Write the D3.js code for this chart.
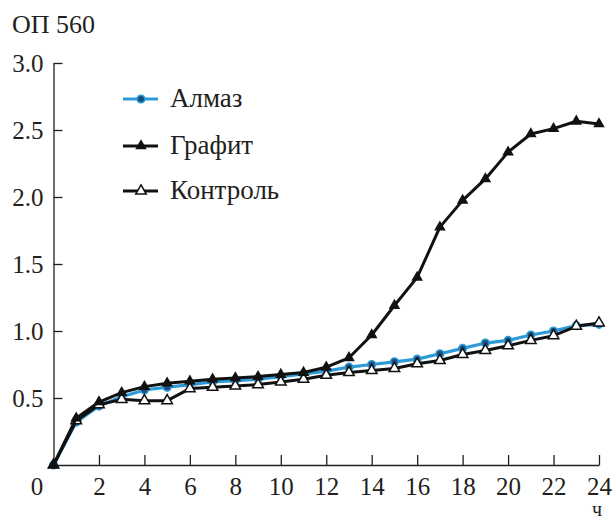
<!DOCTYPE html>
<html lang="ru">
<head>
<meta charset="utf-8" />
<title>ОП 560</title>
<script src="https://cdnjs.cloudflare.com/ajax/libs/d3/7.8.5/d3.min.js"></script>
<style>
  body { margin: 0; background: #fff; }
  svg, svg text { font-family: "Times New Roman", "Liberation Serif", Tinos, "DejaVu Serif", serif !important; }
</style>
</head>
<body>
<div id="chart"></div>
<script>
// hours
var hours = [0,1,2,3,4,5,6,7,8,9,10,11,12,13,14,15,16,17,18,19,20,21,22,23,24];
// optical density at 560 nm
var almaz    = [0,0.32,0.44,0.51,0.56,0.58,0.60,0.62,0.63,0.64,0.66,0.68,0.70,0.73,0.75,0.77,0.79,0.83,0.87,0.91,0.93,0.97,1.00,1.04,1.05];
var grafit   = [0,0.35,0.47,0.54,0.585,0.61,0.625,0.64,0.65,0.66,0.675,0.69,0.73,0.80,0.97,1.19,1.40,1.775,1.975,2.135,2.335,2.47,2.51,2.565,2.545];
var kontrol  = [0,0.33,0.45,0.49,0.48,0.48,0.57,0.58,0.59,0.60,0.62,0.64,0.67,0.69,0.705,0.72,0.755,0.78,0.825,0.855,0.89,0.93,0.965,1.035,1.06];
var seriesNames = ["Алмаз", "Графит", "Контроль"];
var xTicks = [2,4,6,8,10,12,14,16,18,20,22,24];
var yTicks = [0.5,1.0,1.5,2.0,2.5,3.0];

var W = 613, H = 523;
var txt = "#231f20";
var svg = d3.select("#chart").append("svg")
    .attr("width", W).attr("height", H);

var x = d3.scaleLinear().domain([0, 24]).range([53.5, 599]);
var y = d3.scaleLinear().domain([0, 3]).range([465, 63]);

// x axis, ticks pointing up
var gx = svg.append("g")
    .attr("transform", "translate(0," + y(0) + ")")
    .call(d3.axisBottom(x).tickValues(xTicks).tickSize(-10).tickSizeOuter(0).tickPadding(0));
gx.attr("font-family", null).attr("font-size", 25);
gx.select(".domain").attr("stroke", txt).attr("stroke-width", 1.3);
gx.selectAll(".tick line").attr("stroke", txt).attr("stroke-width", 1.3);
gx.selectAll(".tick text")
    .attr("y", 30).attr("dy", null).attr("fill", txt);

// y axis, ticks pointing right
var gy = svg.append("g")
    .attr("transform", "translate(" + x(0) + ",0)")
    .call(d3.axisLeft(y).tickValues(yTicks).tickSize(-9).tickSizeOuter(0)
        .tickFormat(d3.format(".1f")));
gy.attr("font-family", null).attr("font-size", 25);
gy.select(".domain").attr("stroke", txt).attr("stroke-width", 1.3);
gy.selectAll(".tick line").attr("stroke", txt).attr("stroke-width", 1.3);
gy.selectAll(".tick text")
    .attr("x", -10).attr("dy", "0.33em").attr("fill", txt);

// origin label and axis titles
svg.append("text").attr("x", 37).attr("y", 495).attr("text-anchor", "middle")
    .attr("font-size", 25).attr("fill", txt).text("0");
svg.append("text").attr("x", 12).attr("y", 33)
    .attr("font-size", 26).attr("fill", txt).text("ОП 560");
svg.append("text").attr("x", 597).attr("y", 516).attr("text-anchor", "middle")
    .attr("font-size", 20).attr("fill", txt).text("ч");

var line = d3.line()
    .x(function(d, i) { return x(hours[i]); })
    .y(function(d) { return y(d); });

var blue = "#2b9ad6", navy = "#1b4f80", ink = "#111";
var triFilled = d3.symbol().type(d3.symbolTriangle).size(58);
var triOpen = d3.symbol().type(d3.symbolTriangle).size(48);

// Алмаз
svg.append("path").datum(almaz).attr("d", line)
    .attr("fill", "none").attr("stroke", blue).attr("stroke-width", 3.2).attr("stroke-linejoin", "round");
svg.append("g").selectAll("circle").data(almaz).enter().append("circle")
    .attr("cx", function(d, i) { return x(hours[i]); })
    .attr("cy", function(d) { return y(d); })
    .attr("r", 3.8).attr("fill", navy).attr("stroke", blue).attr("stroke-width", 1.6);

// Контроль
svg.append("path").datum(kontrol).attr("d", line)
    .attr("fill", "none").attr("stroke", ink).attr("stroke-width", 3).attr("stroke-linejoin", "round");
svg.append("g").selectAll("path").data(kontrol).enter().append("path")
    .attr("d", triOpen)
    .attr("transform", function(d, i) { return "translate(" + x(hours[i]) + "," + y(d) + ")"; })
    .attr("fill", "#fff").attr("stroke", ink).attr("stroke-width", 1.5);

// Графит
svg.append("path").datum(grafit).attr("d", line)
    .attr("fill", "none").attr("stroke", ink).attr("stroke-width", 3).attr("stroke-linejoin", "round");
svg.append("g").selectAll("path").data(grafit).enter().append("path")
    .attr("d", triFilled)
    .attr("transform", function(d, i) { return "translate(" + x(hours[i]) + "," + y(d) + ")"; })
    .attr("fill", ink);

// legend
var legY = [99, 146, 191];
var leg = svg.append("g");
seriesNames.forEach(function(name, i) {
  var cy = legY[i];
  leg.append("line").attr("x1", 123).attr("x2", 158).attr("y1", cy).attr("y2", cy)
      .attr("stroke", i === 0 ? blue : ink).attr("stroke-width", 3);
  if (i === 0) {
    leg.append("circle").attr("cx", 141).attr("cy", cy).attr("r", 3.8)
        .attr("fill", navy).attr("stroke", blue).attr("stroke-width", 1.6);
  } else if (i === 1) {
    leg.append("path").attr("d", triFilled).attr("transform", "translate(141," + cy + ")").attr("fill", ink);
  } else {
    leg.append("path").attr("d", triOpen).attr("transform", "translate(141," + cy + ")")
        .attr("fill", "#fff").attr("stroke", ink).attr("stroke-width", 1.5);
  }
  leg.append("text").attr("x", 170).attr("y", cy + 8)
      .attr("font-size", 27).attr("fill", txt).text(name);
});
</script>
</body>
</html>
